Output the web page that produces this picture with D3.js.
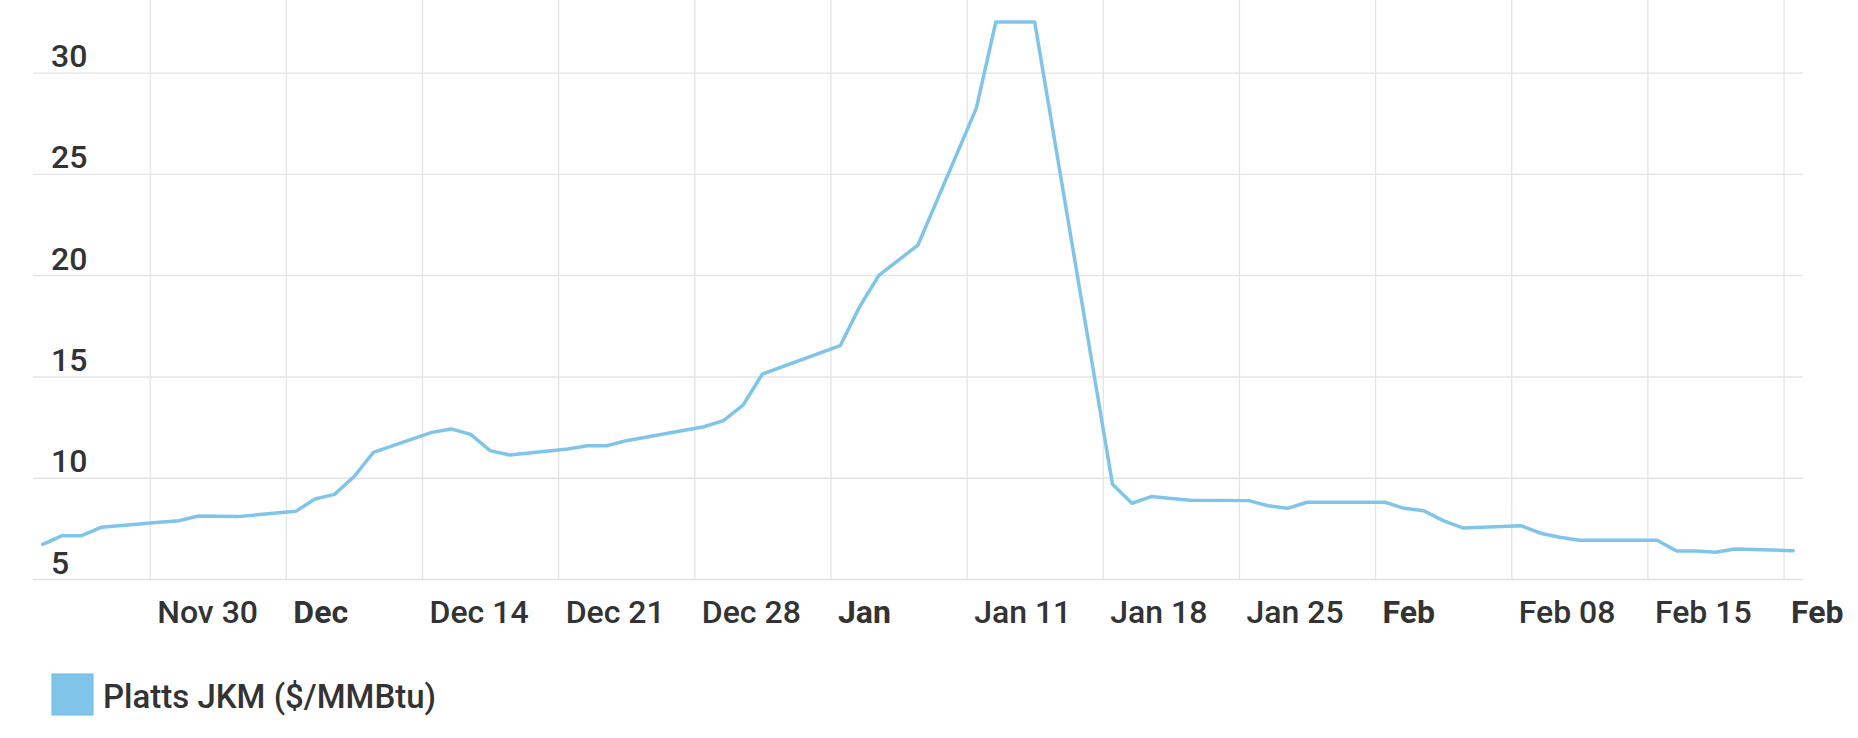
<!DOCTYPE html>
<html>
<head>
<meta charset="utf-8">
<script src="https://cdn.jsdelivr.net/npm/d3@7"></script>
<style>
  html, body { margin: 0; padding: 0; background: #fff; }
  svg { display: block; font-family: Roboto, "Noto Sans", sans-serif; }
</style>
</head>
<body>
<svg id="chart" width="1858" height="738"></svg>
<script>
// ---- data ----
const dates = [
  "2020-11-24","2020-11-25","2020-11-26","2020-11-27","2020-11-30",
  "2020-12-01","2020-12-02","2020-12-03","2020-12-04","2020-12-07",
  "2020-12-08","2020-12-09","2020-12-10","2020-12-11","2020-12-14",
  "2020-12-15","2020-12-16","2020-12-17","2020-12-18","2020-12-21",
  "2020-12-22","2020-12-23","2020-12-24","2020-12-28","2020-12-29",
  "2020-12-30","2020-12-31","2021-01-04","2021-01-05","2021-01-06",
  "2021-01-07","2021-01-08","2021-01-11","2021-01-12","2021-01-13",
  "2021-01-14","2021-01-15","2021-01-18","2021-01-19","2021-01-20",
  "2021-01-21","2021-01-22","2021-01-25","2021-01-26","2021-01-27",
  "2021-01-28","2021-01-29","2021-02-01","2021-02-02","2021-02-03",
  "2021-02-04","2021-02-05","2021-02-08","2021-02-09","2021-02-10",
  "2021-02-11","2021-02-12","2021-02-15","2021-02-16","2021-02-17",
  "2021-02-18","2021-02-19","2021-02-22"
];
const jkm = [
  6.71, 7.14, 7.14, 7.55, 7.80,
  7.88, 8.11, 8.10, 8.08, 8.34,
  8.95, 9.18, 10.05, 11.25, 12.24,
  12.41, 12.14, 11.34, 11.12, 11.42,
  11.58, 11.58, 11.83, 12.52, 12.82,
  13.58, 15.12, 16.52, 18.45, 20.01,
  20.75, 21.49, 28.25, 32.50, 32.50,
  32.50, 26.80, 9.68, 8.74, 9.07,
  8.98, 8.89, 8.87, 8.62, 8.49,
  8.79, 8.79, 8.79, 8.49, 8.37,
  7.88, 7.52, 7.63, 7.26, 7.06,
  6.91, 6.91, 6.91, 6.38, 6.38,
  6.32, 6.48, 6.40
];
const xTickDates = ["2020-11-30","2020-12-07","2020-12-14","2020-12-21","2020-12-28",
  "2021-01-04","2021-01-11","2021-01-18","2021-01-25","2021-02-01",
  "2021-02-08","2021-02-15","2021-02-22"];
const xTickLabels = ["Nov 30","Dec","Dec 14","Dec 21","Dec 28","Jan","Jan 11",
  "Jan 18","Jan 25","Feb","Feb 08","Feb 15","Feb"];
const monthLabels = ["Dec","Jan","Feb"];
const yTicks = [5, 10, 15, 20, 25, 30];
const xDomain = ["2020-11-24","2021-02-23"];
const yDomain = [5, 33.59];
const seriesName = "Platts JKM ($/MMBtu)";

// ---- layout ----
const plotLeft = 33, plotRight = 1803, plotTop = 0, plotBottom = 579;
const lineColor = "#80c5e9";
const gridColor = "#e4e4e4";
const textColor = "#333333";

const parse = d3.timeParse("%Y-%m-%d");
const svg = d3.select("#chart");

const x = d3.scaleTime().domain(xDomain.map(parse)).range([plotLeft, plotRight]);
const y = d3.scaleLinear().domain(yDomain).range([plotBottom, plotTop]);

// y grid + labels
const yAxis = d3.axisLeft(y).tickValues(yTicks).tickSize(-(plotRight - plotLeft)).tickFormat(d3.format("d"));
const gy = svg.append("g").attr("transform", `translate(${plotLeft},0)`).call(yAxis);
gy.select(".domain").remove();
gy.selectAll(".tick line").attr("stroke", gridColor).attr("stroke-width", 1.3);
gy.selectAll(".tick text")
  .attr("x", 18).attr("dy", 0).attr("y", -6)
  .attr("text-anchor", "start")
  .attr("fill", textColor)
  .style("font-size", "32px").style("font-weight", 500).style("font-family", "Roboto");

// x grid + labels
const xAxis = d3.axisBottom(x)
  .tickValues(xTickDates.map(parse))
  .tickSize(-(plotBottom - plotTop))
  .tickFormat((d, i) => xTickLabels[i]);
const gx = svg.append("g").attr("transform", `translate(0,${plotBottom})`).call(xAxis);
gx.select(".domain").remove();
gx.selectAll(".tick line").attr("stroke", gridColor).attr("stroke-width", 1.3);
gx.selectAll(".tick text")
  .attr("x", 7).attr("y", 44).attr("dy", 0)
  .attr("text-anchor", "start")
  .attr("fill", textColor)
  .style("font-size", "32px")
  .style("font-family", "Roboto")
  .style("font-weight", (d, i) => monthLabels.includes(xTickLabels[i]) ? 700 : 500);

// line
const pts = dates.map((d, i) => ({ t: d3.timeHour.offset(parse(d), 12), v: jkm[i] }));
const line = d3.line().x(d => x(d.t)).y(d => y(d.v));
svg.append("path")
  .datum(pts)
  .attr("d", line)
  .attr("fill", "none")
  .attr("stroke", lineColor)
  .attr("stroke-width", 3.5)
  .attr("stroke-linejoin", "round")
  .attr("stroke-linecap", "round");

// legend
const lg = svg.append("g").attr("transform", "translate(52,674)");
lg.append("rect").attr("width", 41).attr("height", 41)
  .attr("fill", lineColor).attr("stroke", "#6fb9e2").attr("stroke-width", 1);
lg.append("text").attr("x", 51).attr("y", 34)
  .attr("fill", textColor)
  .style("font-size", "33px").style("font-weight", 500).style("font-family", "Roboto")
  .text(seriesName);
</script>
</body>
</html>
